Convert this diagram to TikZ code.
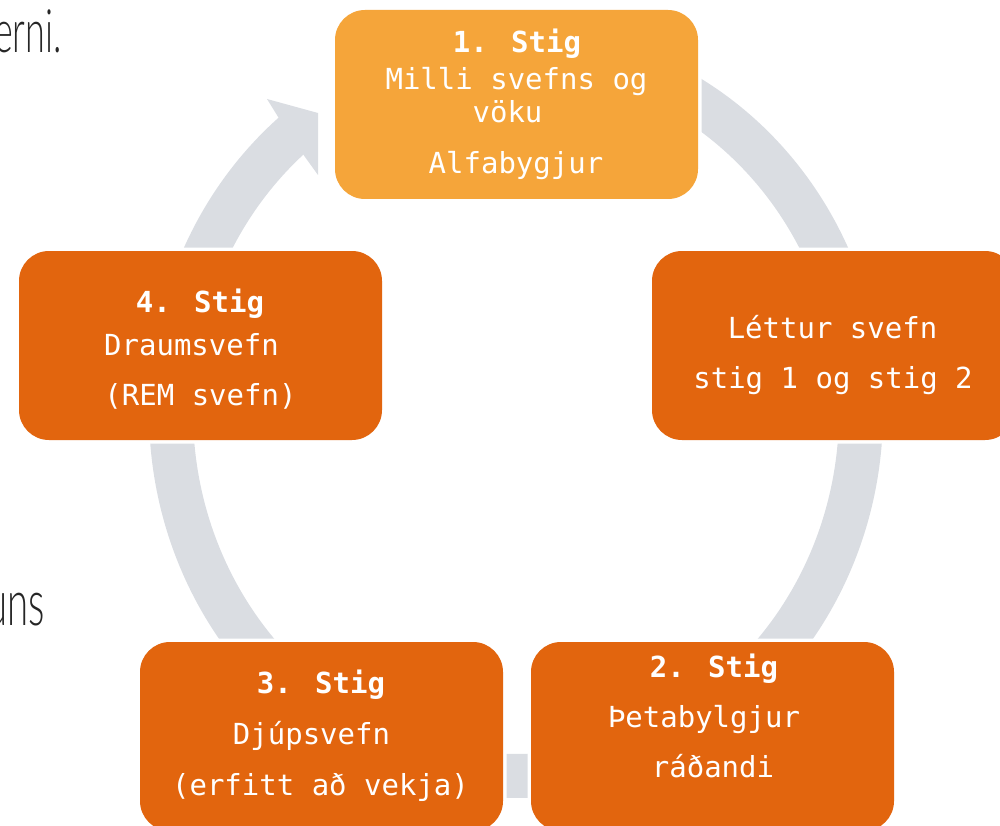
\documentclass[tikz,border=0pt]{standalone}
\usepackage{fontspec}
\newfontfamily\monofont{DejaVu Sans Mono}
\newfontfamily\thinfont[UprightFont={* Light}, FakeStretch=0.6]{Lato}
\definecolor{ringgrey}{HTML}{DADDE2}
\definecolor{boxlight}{HTML}{F5A53A}
\definecolor{boxdark}{HTML}{E2650E}
\definecolor{sidetext}{HTML}{262626}
\begin{document}
\begin{tikzpicture}[x=1pt,y=-1pt,
  stage/.style={rounded corners=30, minimum width=363, minimum height=189,
    inner sep=0, outer sep=0, preaction={draw=white, line width=7}},
  lbl/.style={text=white, font=\monofont\fontsize{29}{34}\selectfont, inner sep=0, anchor=base},
  hd/.style={lbl, font=\monofont\bfseries\fontsize{29}{34}\selectfont},
  side/.style={text=sidetext, inner sep=0, anchor=base east}]
\useasboundingbox (0,0) rectangle (1000,826);
% grey cycle ring (from behind stage 1, clockwise, ending in the arrowhead)
\draw[ringgrey, line width=44] plot[domain=270:591, samples=160, smooth]
  ({516+345*cos(\x)},{412+364*sin(\x)});
\fill[ringgrey] (267,99) -- (318,113) -- (318,175) -- (305,157) -- (280,120) -- cycle;
% partial side texts
\node[side, font=\thinfont\fontsize{60}{66}\selectfont] (p1) at (62,53) {erni.};
\node[side, font=\thinfont\fontsize{64}{70}\selectfont] (p2) at (45,625) {uns};
% stage boxes
\node[stage, fill=boxlight] (s1) at (516.5,104.5) {};
\node[stage, fill=boxdark] (sl) at (833.5,345.5) {};
\node[stage, fill=boxdark] (s2) at (712.5,736.5) {};
\node[stage, fill=boxdark] (s3) at (321.5,736.5) {};
\node[stage, fill=boxdark] (s4) at (200.5,345.5) {};
% texts
\node[hd]  (s1a) at (517,53) {1. Stig};
\node[lbl] (s1b) at (516.5,90) {Milli svefns og};
\node[lbl] (s1c) at (507.5,123) {vöku};
\node[lbl] (s1d) at (516,174) {Alfabygjur};
\node[lbl] (sla) at (832.5,338) {Léttur svefn};
\node[lbl] (slb) at (833,388) {stig 1 og stig 2};
\node[hd]  (s2a) at (714,677) {2. Stig};
\node[lbl] (s2b) at (704,727) {Þetabylgjur};
\node[lbl] (s2c) at (713,777) {ráðandi};
\node[hd]  (s3a) at (321,693) {3. Stig};
\node[lbl] (s3b) at (311.5,744) {Djúpsvefn};
\node[lbl] (s3c) at (320.5,795.5) {(erfitt að vekja)};
\node[hd]  (s4a) at (200,312) {4. Stig};
\node[lbl] (s4b) at (191.5,355) {Draumsvefn};
\node[lbl] (s4c) at (200.5,405) {(REM svefn)};
\end{tikzpicture}
\end{document}
